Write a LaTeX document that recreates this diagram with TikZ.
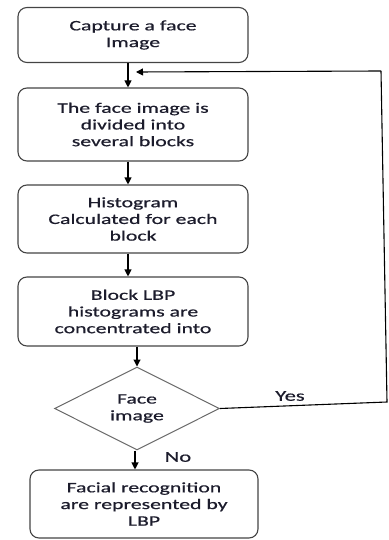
\documentclass[tikz,border=0pt]{standalone}
\usepackage{fontspec}
\setmainfont{Carlito}[FakeStretch=1.5,FakeBold=0.6]
\usetikzlibrary{shapes.geometric,arrows.meta}
\definecolor{txt}{HTML}{1C1C2C}
\definecolor{edge}{HTML}{444444}
\begin{document}
\begin{tikzpicture}[x=1pt,y=-1pt,
  box/.style={draw=edge,line width=1.1pt,rounded corners=9pt,minimum width=230pt,align=center,
    text=txt,font=\fontsize{14.5}{16.7}\selectfont,inner sep=0pt},
  dec/.style={draw=edge!80,line width=1pt,diamond,minimum width=165pt,minimum height=83pt,aspect=2,
    align=center,text=txt,font=\fontsize{14.5}{16.7}\selectfont,inner sep=0pt},
  arr/.style={draw=black,line width=1.1pt,-{Triangle[length=7pt,width=7pt]}},
  ln/.style={draw=black,line width=1.1pt},
  lab/.style={text=txt,font=\fontsize{15}{17}\selectfont,inner sep=0pt}]
\useasboundingbox (0,0) rectangle (388,540);
\node[box,minimum height=55pt] (b1) at (133,35) {Capture a face\\Image};
\node[box,minimum height=73pt] (b2) at (133,124.5) {The face image is\\divided into\\several blocks};
\node[box,minimum height=68pt] (b3) at (133,219) {Histogram\\Calculated for each\\block};
\node[box,minimum height=69pt] (b4) at (133,311.5) {Block LBP\\histograms are\\concentrated into};
\node[dec,minimum width=165pt,minimum height=83pt] (d) at (137,408.5) {Face\\image};
\node[box,minimum width=228pt,minimum height=68pt] (b5) at (144,504) {Facial recognition\\are represented by\\LBP};
\draw[arr] ([xshift=-5pt]b1.south) -- ([xshift=-5pt]b2.north);
\draw[arr] ([xshift=-5pt]b2.south) -- ([xshift=-5pt]b3.north);
\draw[arr] ([xshift=-5pt]b3.south) -- ([xshift=-5pt]b4.north);
\draw[arr] (b4.south -| d.north) -- (d.north);
\draw[arr] ([xshift=-2pt]d.south) -- ([xshift=-9pt]b5.north);
\coordinate (r1) at (387,402);
\coordinate (r2) at (381,71);
\coordinate (r3) at (136,72);
\draw[ln] (d.east) -- (r1) -- (r2);
\draw[arr] (r2) -- (r3);
\node[lab] (yes) at (290,396) {Yes};
\node[lab] (no) at (178,457) {No};
\end{tikzpicture}
\end{document}
